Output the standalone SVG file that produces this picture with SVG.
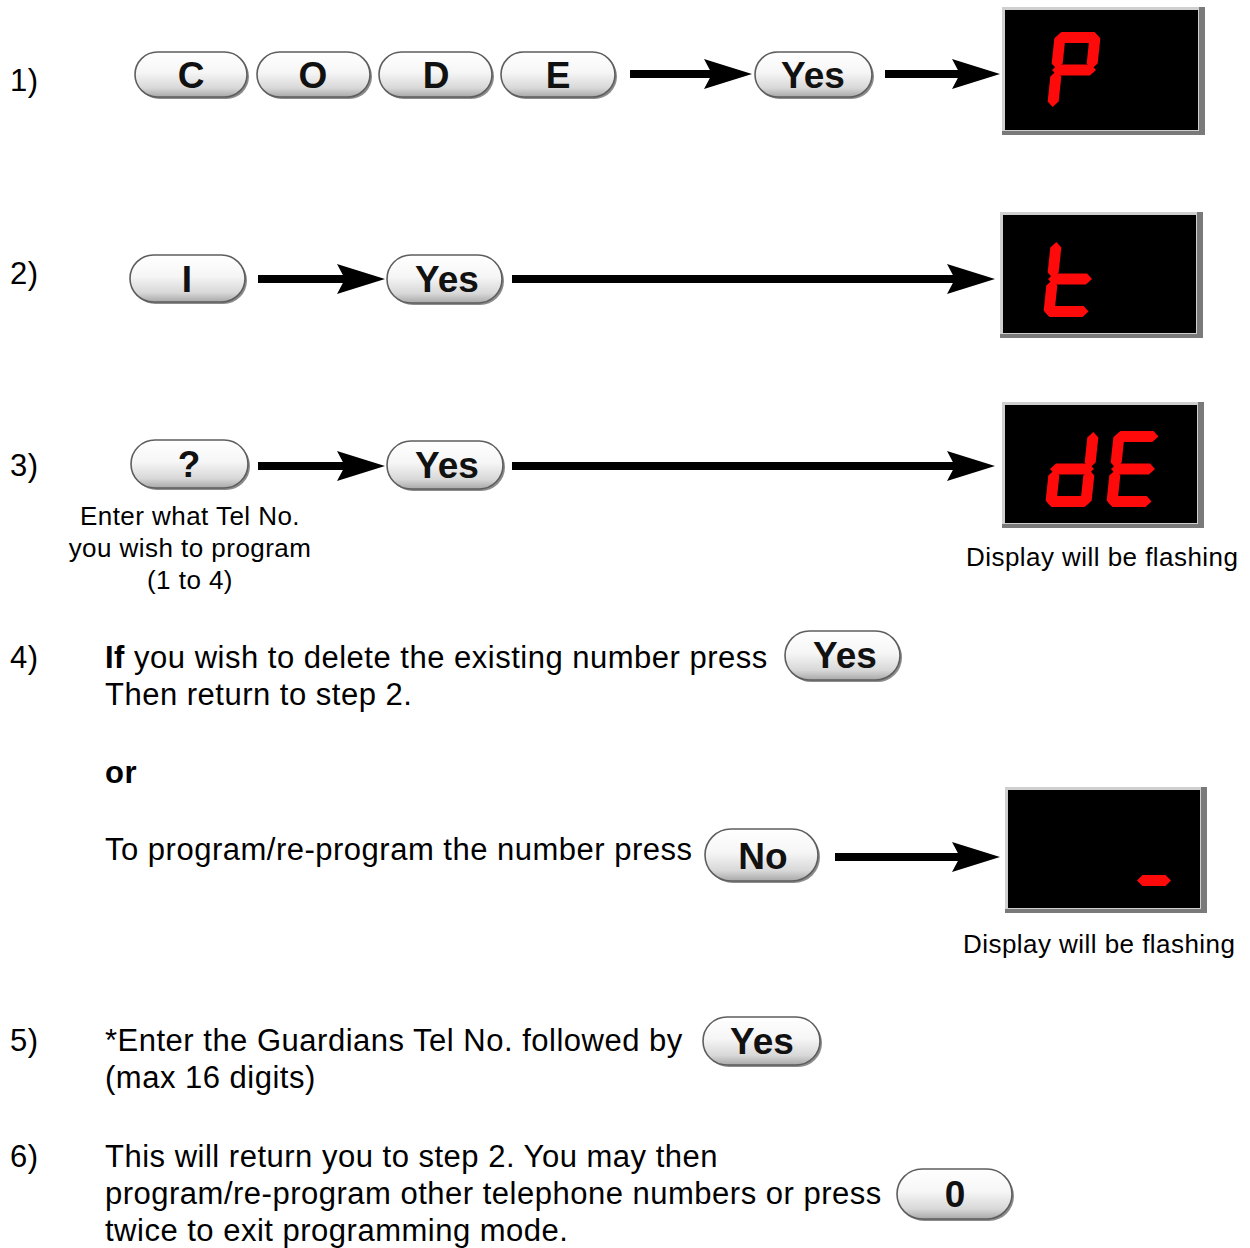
<svg xmlns="http://www.w3.org/2000/svg" xmlns:xlink="http://www.w3.org/1999/xlink" width="1250" height="1248" viewBox="0 0 1250 1248">
<style>
.body{font-family:"Liberation Sans",Arial,sans-serif;font-size:31px;letter-spacing:0.5px;fill:#000}
.small{font-family:"Liberation Sans",Arial,sans-serif;font-size:26px;letter-spacing:0.45px;fill:#000}
.b{font-weight:bold}
.btn{fill:url(#btnGrad);stroke:#5e5e5e;stroke-width:1.6}
.btnsh{fill:#8c8c8c}
.lbl{font-family:"Liberation Sans",Arial,sans-serif;font-weight:bold;font-size:37px;fill:#111;text-anchor:middle}
.conn{stroke:#000;stroke-width:8;fill:none;marker-end:url(#head)}
.seg{fill:#ff0a0a}
.lcd{fill:#000}
.bez{fill:#cfcfcf}
.bezd{fill:#7a7a7a}
</style>
<defs>
<linearGradient id="btnGrad" x1="0" y1="0" x2="0" y2="1">
<stop offset="0" stop-color="#ffffff"/>
<stop offset="0.45" stop-color="#f6f6f6"/>
<stop offset="0.8" stop-color="#d8d8d8"/>
<stop offset="1" stop-color="#a8a8a8"/>
</linearGradient>
<marker id="head" markerUnits="userSpaceOnUse" markerWidth="50" markerHeight="34" refX="18" refY="16" orient="auto" overflow="visible">
<path d="M48,16 L0,1 L8,16 L0,31 Z" fill="#000"/>
</marker>
<path id="sa" d="M1,-70.5 L6.5,-76 L39.5,-76 L45,-70.5 L39.5,-65 L6.5,-65 Z"/>
<path id="sg" d="M1,-38 L6.5,-43.5 L39.5,-43.5 L45,-38 L39.5,-32.5 L6.5,-32.5 Z"/>
<path id="sd" d="M1,-5.5 L6.5,-11 L39.5,-11 L45,-5.5 L39.5,0 L6.5,0 Z"/>
<path id="sf" d="M5.5,-75 L11,-69.5 L11,-44.5 L5.5,-39 L0,-44.5 L0,-69.5 Z"/>
<path id="se" d="M5.5,-37 L11,-31.5 L11,-6.5 L5.5,-1 L0,-6.5 L0,-31.5 Z"/>
<path id="sb" d="M40.5,-75 L46,-69.5 L46,-44.5 L40.5,-39 L35,-44.5 L35,-69.5 Z"/>
<path id="sc" d="M40.5,-37 L46,-31.5 L46,-6.5 L40.5,-1 L35,-6.5 L35,-31.5 Z"/>
</defs>
<rect width="1250" height="1248" fill="#fff"/>

<g id="labels">
<text class="body" x="10" y="91">1)</text>
<text class="body" x="10" y="284">2)</text>
<text class="body" x="10" y="476">3)</text>
<text class="body" x="10" y="668">4)</text>
<text class="body" x="10" y="1051">5)</text>
<text class="body" x="10" y="1167">6)</text>
<text class="small" x="190" y="525" text-anchor="middle">Enter what Tel No.</text>
<text class="small" x="190" y="557" text-anchor="middle">you wish to program</text>
<text class="small" x="190" y="589" text-anchor="middle">(1 to 4)</text>
<text class="small" x="966" y="566">Display will be flashing</text>
<text class="small" x="963" y="953">Display will be flashing</text>
<text class="body" x="105" y="668"><tspan class="b">If</tspan> you wish to delete the existing number press</text>
<text class="body" x="105" y="705">Then return to step 2.</text>
<text class="body b" x="105" y="783">or</text>
<text class="body" x="105" y="860">To program/re-program the number press</text>
<text class="body" x="105" y="1051">*Enter the Guardians Tel No. followed by</text>
<text class="body" x="105" y="1088">(max 16 digits)</text>
<text class="body" x="105" y="1167">This will return you to step 2. You may then</text>
<text class="body" x="105" y="1204">program/re-program other telephone numbers or press</text>
<text class="body" x="105" y="1241">twice to exit programming mode.</text>
</g>

<g id="connectors">
<line class="conn" x1="630" y1="74" x2="722" y2="74"/>
<line class="conn" x1="885" y1="74" x2="970" y2="74"/>
<line class="conn" x1="258" y1="279" x2="355" y2="279"/>
<line class="conn" x1="512" y1="279" x2="965" y2="279"/>
<line class="conn" x1="258" y1="466" x2="355" y2="466"/>
<line class="conn" x1="512" y1="466" x2="965" y2="466"/>
<line class="conn" x1="835" y1="857" x2="970" y2="857"/>
</g>

<g id="btn-C"><rect class="btnsh" x="137" y="54" width="112" height="45" rx="22.5"/><rect class="btn" x="135" y="52" width="112" height="45" rx="22.5"/><text class="lbl" x="191" y="88">C</text></g>
<g id="btn-O"><rect class="btnsh" x="259" y="54" width="113" height="45" rx="22.5"/><rect class="btn" x="257" y="52" width="113" height="45" rx="22.5"/><text class="lbl" x="313" y="88">O</text></g>
<g id="btn-D"><rect class="btnsh" x="381" y="54" width="113" height="45" rx="22.5"/><rect class="btn" x="379" y="52" width="113" height="45" rx="22.5"/><text class="lbl" x="436" y="88">D</text></g>
<g id="btn-E"><rect class="btnsh" x="503" y="54" width="114" height="45" rx="22.5"/><rect class="btn" x="501" y="52" width="114" height="45" rx="22.5"/><text class="lbl" x="558" y="88">E</text></g>
<g id="btn-yes-1"><rect class="btnsh" x="757" y="54" width="117" height="45" rx="22.5"/><rect class="btn" x="755" y="52" width="117" height="45" rx="22.5"/><text class="lbl" x="813" y="88">Yes</text></g>

<g id="btn-1"><rect class="btnsh" x="132" y="257" width="115" height="47" rx="23.5"/><rect class="btn" x="130" y="255" width="115" height="47" rx="23.5"/><text class="lbl" x="187" y="292">I</text></g>
<g id="btn-yes-2"><rect class="btnsh" x="389" y="257" width="115" height="48" rx="24"/><rect class="btn" x="387" y="255" width="115" height="48" rx="24"/><text class="lbl" x="447" y="292">Yes</text></g>

<g id="btn-q"><rect class="btnsh" x="133" y="442" width="117" height="48" rx="24"/><rect class="btn" x="131" y="440" width="117" height="48" rx="24"/><text class="lbl" x="189" y="477">?</text></g>
<g id="btn-yes-3"><rect class="btnsh" x="389" y="443" width="116" height="48" rx="24"/><rect class="btn" x="387" y="441" width="116" height="48" rx="24"/><text class="lbl" x="447" y="478">Yes</text></g>

<g id="btn-yes-4"><rect class="btnsh" x="787" y="633" width="115" height="49" rx="24.5"/><rect class="btn" x="785" y="631" width="115" height="49" rx="24.5"/><text class="lbl" x="845" y="668">Yes</text></g>
<g id="btn-no"><rect class="btnsh" x="707" y="831" width="113" height="52" rx="26"/><rect class="btn" x="705" y="829" width="113" height="52" rx="26"/><text class="lbl" x="763" y="869">No</text></g>
<g id="btn-yes-5"><rect class="btnsh" x="705" y="1019" width="117" height="48" rx="24"/><rect class="btn" x="703" y="1017" width="117" height="48" rx="24"/><text class="lbl" x="762" y="1054">Yes</text></g>
<g id="btn-0"><rect class="btnsh" x="899" y="1171" width="115" height="50" rx="25"/><rect class="btn" x="897" y="1169" width="115" height="50" rx="25"/><text class="lbl" x="955" y="1207">0</text></g>

<g id="display-P">
<rect class="bez" x="1002" y="7" width="203" height="128"/>
<path class="bezd" d="M1199,7 H1205 V135 H1002 V131 H1199 Z"/>
<rect class="lcd" x="1005" y="10" width="193" height="120"/>
<g class="seg" transform="translate(1047,108) skewX(-6)"><use href="#sa"/><use href="#sb"/><use href="#sf"/><use href="#sg"/><use href="#se"/></g>
</g>
<g id="display-t">
<rect class="bez" x="1000" y="212" width="203" height="126"/>
<path class="bezd" d="M1197,212 H1203 V338 H1000 V334 H1197 Z"/>
<rect class="lcd" x="1003" y="215" width="193" height="118"/>
<g class="seg" transform="translate(1043,317) skewX(-6)"><use href="#sf"/><use href="#se"/><use href="#sg"/><use href="#sd"/></g>
</g>
<g id="display-dE">
<rect class="bez" x="1002" y="402" width="202" height="126"/>
<path class="bezd" d="M1198,402 H1204 V528 H1002 V524 H1198 Z"/>
<rect class="lcd" x="1005" y="405" width="192" height="118"/>
<g class="seg" transform="translate(1045,507) skewX(-6)"><use href="#sb"/><use href="#sc"/><use href="#sg"/><use href="#se"/><use href="#sd"/></g>
<g class="seg" transform="translate(1106,507) skewX(-6)"><use href="#sa"/><use href="#sf"/><use href="#sg"/><use href="#se"/><use href="#sd"/></g>
</g>
<g id="display-dash">
<rect class="bez" x="1005" y="787" width="202" height="126"/>
<path class="bezd" d="M1201,787 H1207 V913 H1005 V909 H1201 Z"/>
<rect class="lcd" x="1008" y="790" width="192" height="118"/>
<path class="seg" d="M1137,880.5 L1142.5,875 L1165.5,875 L1171,880.5 L1165.5,886 L1142.5,886 Z"/>
</g>
</svg>
